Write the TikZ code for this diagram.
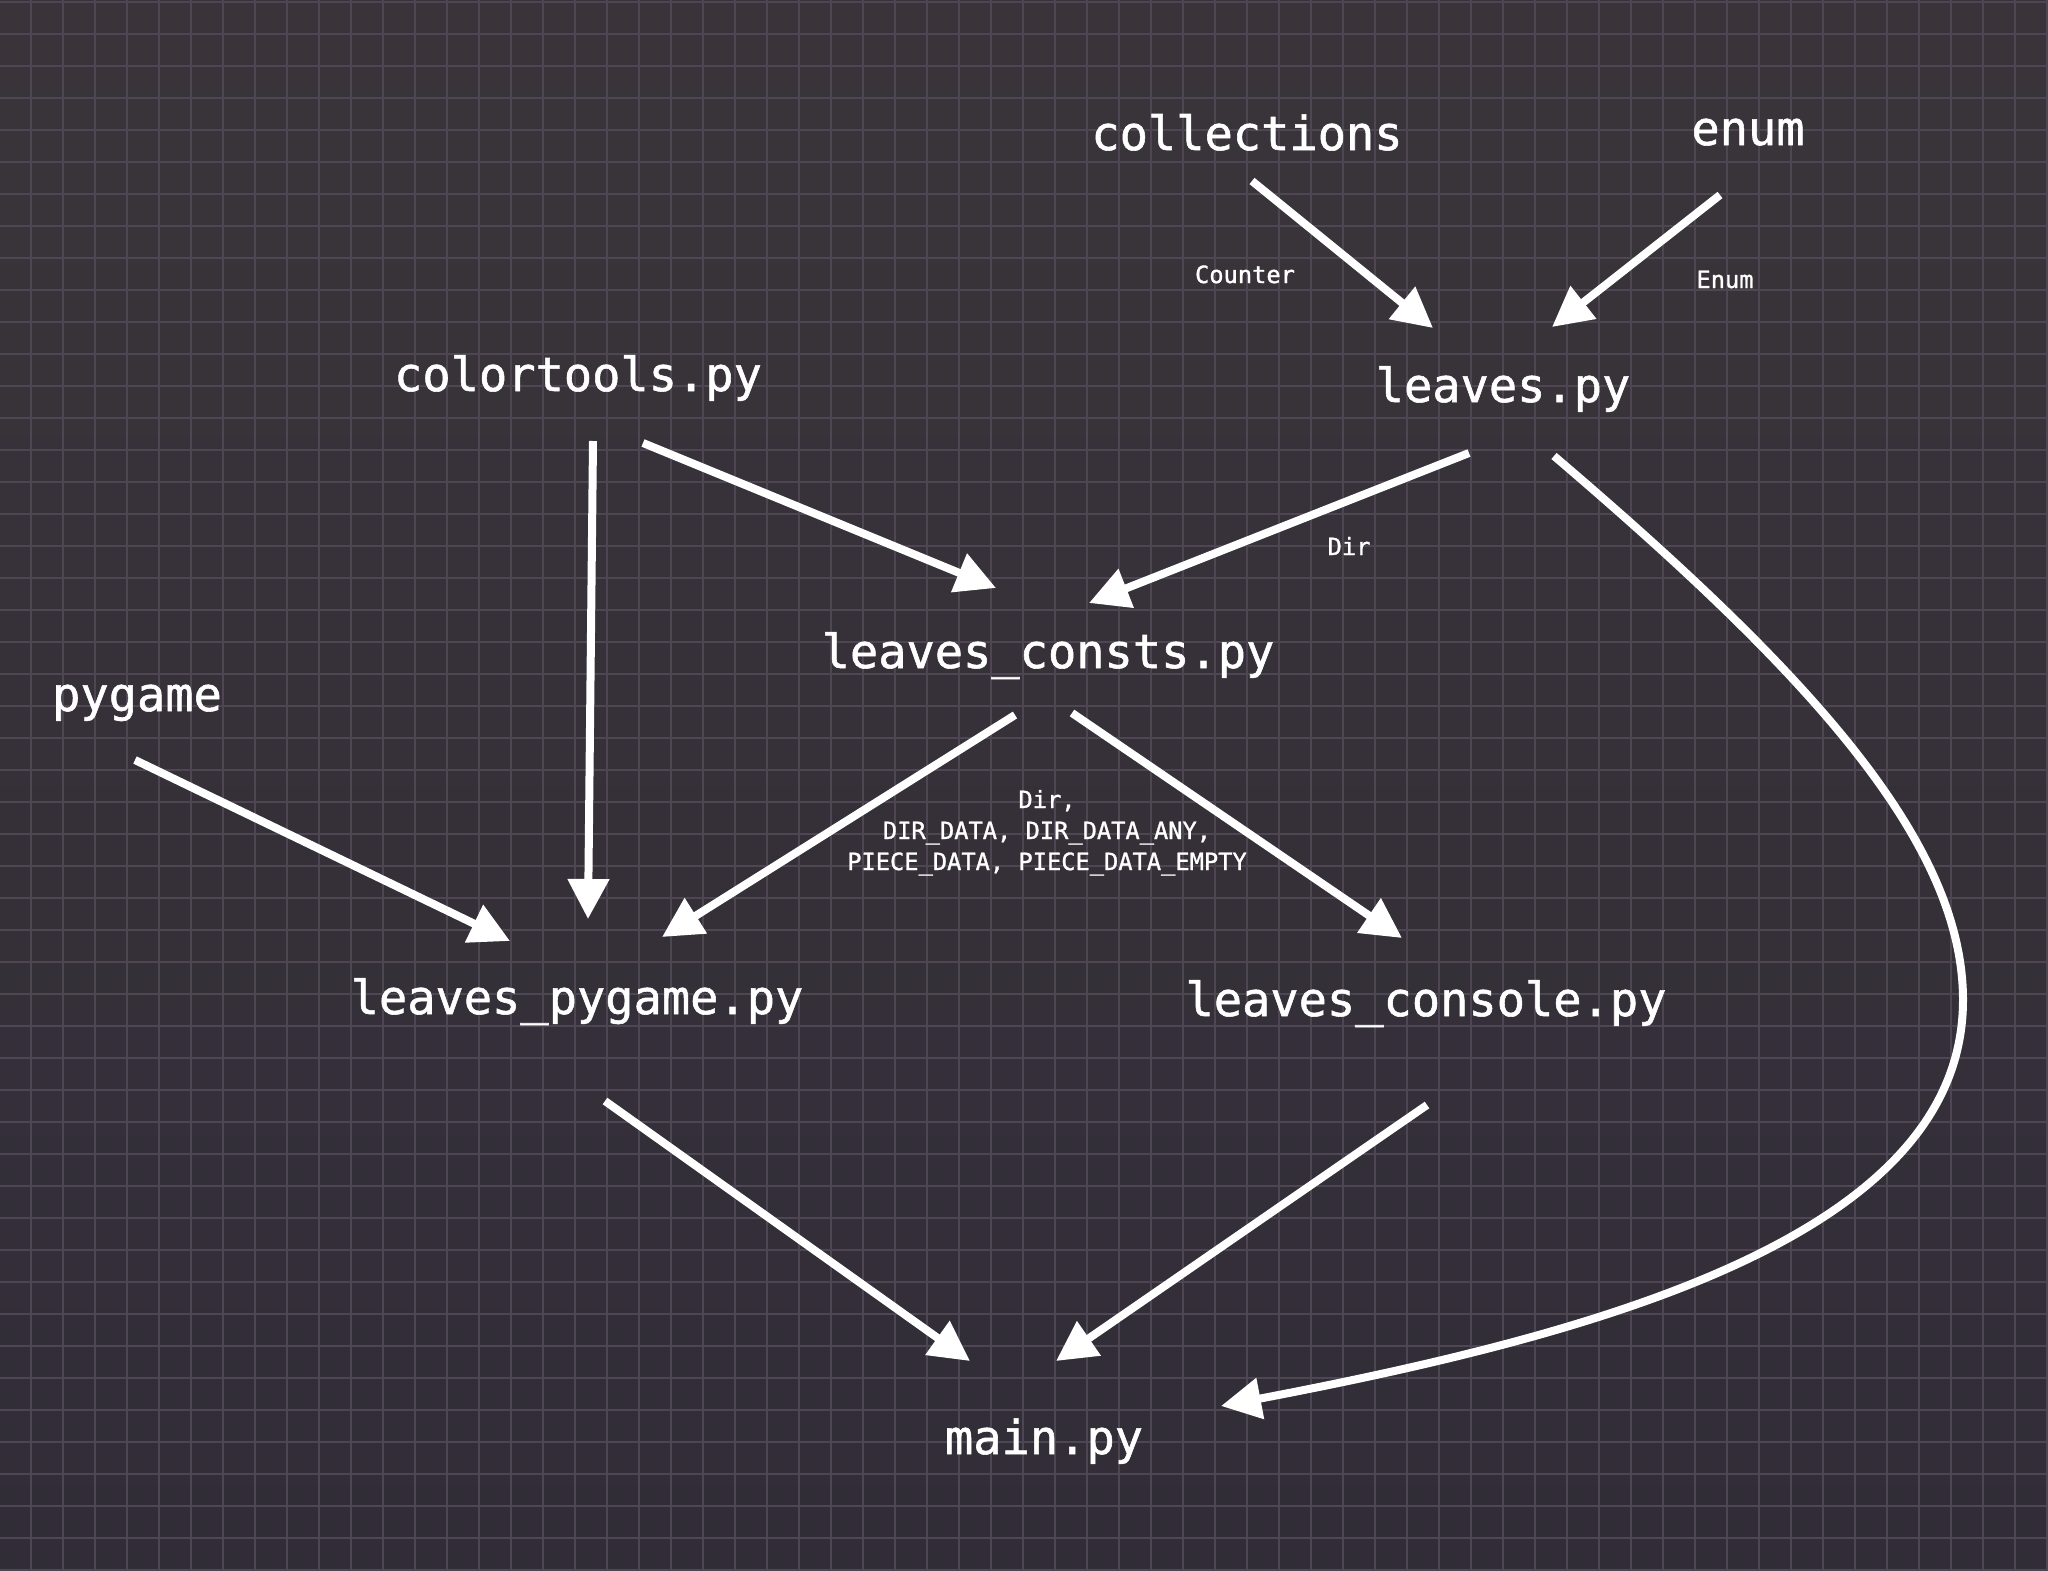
\documentclass[tikz,border=0pt]{standalone}
\usepackage{fontspec}
\newfontfamily\monofont{DejaVu Sans Mono}[FakeBold=1.2]
\usetikzlibrary{arrows.meta}
\definecolor{bgtop}{RGB}{58,52,58}
\definecolor{bgbot}{RGB}{49,45,55}
\definecolor{gridc}{RGB}{78,71,83}
\begin{document}
\begin{tikzpicture}[x=1pt,y=-1pt,
  bigtext/.style={text=white, font=\monofont\fontsize{47}{56}\selectfont, inner sep=0pt, anchor=base},
  smalltext/.style={text=white, font=\monofont\fontsize{23.7}{31}\selectfont, inner sep=0pt, anchor=base},
  gridline/.style={draw=gridc, line width=2.2pt},
  dep/.style={draw=white, line width=8pt, -{Triangle[length=40pt,width=40pt]}},
]
\useasboundingbox (0,0) rectangle (2048,1571);
\shade[top color=bgtop, bottom color=bgbot] (0,0) rectangle (2048,1571);
\foreach \i in {0,...,63} \draw[gridline] ({30.67+32*\i},0) -- ({30.67+32*\i},1571);
\foreach \j in {0,...,49} \draw[gridline] (0,{1.7+32*\j}) -- (2048,{1.7+32*\j});

% module nodes
\node[bigtext] (collections) at (1247,150) {collections};
\node[bigtext] (enum) at (1748,145) {enum};
\node[bigtext] (leaves) at (1503,402) {leaves.py};
\node[bigtext] (colortools) at (578,391) {colortools.py};
\node[bigtext] (consts) at (1048,668) {leaves\_consts.py};
\node[bigtext] (pygame) at (137,711) {pygame};
\node[bigtext] (lpygame) at (577,1014) {leaves\_pygame.py};
\node[bigtext] (lconsole) at (1426,1016) {leaves\_console.py};
\node[bigtext] (main) at (1044,1454) {main.py};

% edge labels
\node[smalltext] (lcounter) at (1245,283) {Counter};
\node[smalltext] (lenum) at (1725,288) {Enum};
\node[smalltext] (ldir) at (1349,555) {Dir};
\node[smalltext, align=center] (lconsts) at (1047,870) {Dir,\\DIR\_DATA, DIR\_DATA\_ANY,\\PIECE\_DATA, PIECE\_DATA\_EMPTY};

% connector ends
\coordinate (colS) at (1252,181); \coordinate (colE) at (1433,328);
\coordinate (enS) at (1720,195); \coordinate (enE) at (1552,327);
\coordinate (ctS1) at (593,441); \coordinate (ctE1) at (588,919);
\coordinate (ctS2) at (643,443); \coordinate (ctE2) at (996,588);
\coordinate (lvS1) at (1469,453); \coordinate (lvE1) at (1089,603);
\coordinate (lvS2) at (1554,456); \coordinate (lvM2) at (1963,1000); \coordinate (lvE2) at (1221,1406);
\coordinate (pgS) at (135,760); \coordinate (pgE) at (510,941);
\coordinate (csS1) at (1015,715); \coordinate (csE1) at (662,937);
\coordinate (csS2) at (1072,713); \coordinate (csE2) at (1402,938);
\coordinate (lpS) at (605,1101); \coordinate (lpE) at (970,1361);
\coordinate (lcS) at (1427,1105); \coordinate (lcE) at (1056,1361);

\draw[dep] (colS) -- (colE);
\draw[dep] (enS) -- (enE);
\draw[dep] (ctS1) -- (ctE1);
\draw[dep] (ctS2) -- (ctE2);
\draw[dep] (lvS1) -- (lvE1);
\draw[dep] (lvS2) .. controls (1805,670) and (1963,840) .. (lvM2) .. controls (1963,1230) and (1620,1330) .. (lvE2);
\draw[dep] (pgS) -- (pgE);
\draw[dep] (csS1) -- (csE1);
\draw[dep] (csS2) -- (csE2);
\draw[dep] (lpS) -- (lpE);
\draw[dep] (lcS) -- (lcE);
\end{tikzpicture}
\end{document}
